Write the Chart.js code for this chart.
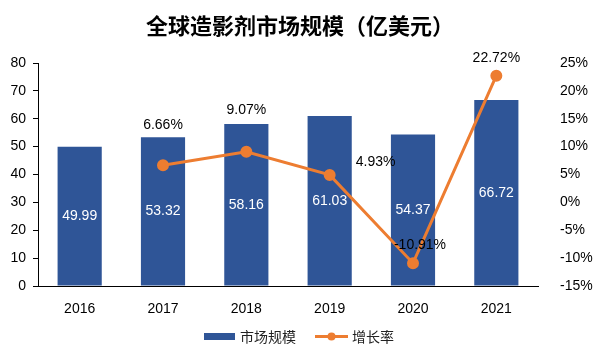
<!DOCTYPE html>
<html>
<head>
<meta charset="utf-8">
<script src="https://cdn.jsdelivr.net/npm/chart.js@4"></script>
<style>
  html, body { margin: 0; padding: 0; background: #fff; }
  #wrap { position: relative; width: 600px; height: 353px; }
</style>
</head>
<body>
<div id="wrap"><canvas id="market-chart" width="600" height="353"></canvas></div>
<script>
// data
var years = ["2016", "2017", "2018", "2019", "2020", "2021"];
var marketSize = [49.99, 53.32, 58.16, 61.03, 54.37, 66.72];
var growthRate = [null, 6.66, 9.07, 4.93, -10.91, 22.72];
var leftTicks = [0, 10, 20, 30, 40, 50, 60, 70, 80];
var rightTicks = [-15, -10, -5, 0, 5, 10, 15, 20, 25];

var BLUE = "#2F5597";
var ORANGE = "#ED7D31";
var NUM_FONT = "'Liberation Sans', Arial, sans-serif";
var CJK_FONT = "'Noto Sans CJK SC', sans-serif";

// label nudges for the growth labels (px), like the Excel original
var growthLabelShift = [[0, 0], [0, -40], [0, -42], [46, -13], [7, -18], [0, -18]];

var extrasPlugin = {
  id: "extras",
  afterDatasetsDraw: function(chart) {
    var ctx = chart.ctx;
    ctx.save();
    ctx.textAlign = "center";
    ctx.textBaseline = "middle";

    // bar values, white in the middle of each bar (bars are dataset 1)
    ctx.font = "14px " + NUM_FONT;
    ctx.fillStyle = "#ffffff";
    chart.getDatasetMeta(1).data.forEach(function(bar, i) {
      ctx.fillText(marketSize[i].toFixed(2), bar.x, (bar.y + bar.base) / 2);
    });

    // growth labels (line is dataset 0)
    ctx.fillStyle = "#000000";
    chart.getDatasetMeta(0).data.forEach(function(pt, i) {
      if (growthRate[i] === null) return;
      var s = growthLabelShift[i];
      ctx.fillText(growthRate[i].toFixed(2) + "%", pt.x + s[0], pt.y + s[1]);
    });

    // title
    ctx.font = "bold 22px " + CJK_FONT;
    ctx.fillText("全球造影剂市场规模（亿美元）", 300, 26);

    // legend
    ctx.fillStyle = BLUE;
    ctx.fillRect(204, 333, 31, 7);
    ctx.strokeStyle = ORANGE;
    ctx.lineWidth = 3;
    ctx.beginPath();
    ctx.moveTo(315, 336.5);
    ctx.lineTo(348, 336.5);
    ctx.stroke();
    ctx.fillStyle = ORANGE;
    ctx.beginPath();
    ctx.arc(331.5, 336.5, 4, 0, Math.PI * 2);
    ctx.fill();
    ctx.font = "14px " + CJK_FONT;
    ctx.fillStyle = "#222";
    ctx.textAlign = "left";
    ctx.fillText("市场规模", 240, 337);
    ctx.fillText("增长率", 352, 337);
    ctx.restore();
  }
};

var ctx = document.getElementById("market-chart").getContext("2d");
new Chart(ctx, {
  data: {
    labels: years,
    datasets: [
      {
        type: "line",
        label: "增长率",
        data: growthRate,
        yAxisID: "y1",
        borderColor: ORANGE,
        backgroundColor: ORANGE,
        borderWidth: 3,
        pointRadius: 4.5,
        pointHoverRadius: 4.5,
        tension: 0,
        order: 0
      },
      {
        type: "bar",
        label: "市场规模",
        data: marketSize,
        yAxisID: "y",
        backgroundColor: BLUE,
        borderWidth: 0,
        categoryPercentage: 1,
        barPercentage: 0.53,
        order: 1
      }
    ]
  },
  options: {
    responsive: false,
    animation: false,
    layout: { padding: { top: 63, left: 0, right: 0, bottom: 0 } },
    plugins: {
      legend: { display: false },
      title: { display: false },
      tooltip: { enabled: false }
    },
    scales: {
      x: {
        grid: { display: false },
        border: { display: true, color: "#000", width: 1 },
        ticks: { color: "#000", padding: 7, font: { family: NUM_FONT, size: 14 } },
        afterFit: function(scale) { scale.height = 67; }
      },
      y: {
        position: "left",
        min: 0,
        max: 80,
        afterBuildTicks: function(scale) { scale.ticks = leftTicks.map(function(v) { return { value: v }; }); },
        grid: { display: true, drawOnChartArea: false, drawTicks: true, tickLength: 5, color: "#000" },
        border: { display: true, color: "#000", width: 1 },
        ticks: { color: "#000", padding: 7, font: { family: NUM_FONT, size: 14 } },
        afterFit: function(scale) { scale.width = 38; }
      },
      y1: {
        position: "right",
        min: -15,
        max: 25,
        afterBuildTicks: function(scale) { scale.ticks = rightTicks.map(function(v) { return { value: v }; }); },
        grid: { display: false },
        border: { display: false },
        ticks: {
          color: "#000",
          padding: 14,
          font: { family: NUM_FONT, size: 14 },
          callback: function(v) { return v + "%"; }
        },
        afterFit: function(scale) { scale.width = 62; }
      }
    }
  },
  plugins: [extrasPlugin]
});
</script>
</body>
</html>
